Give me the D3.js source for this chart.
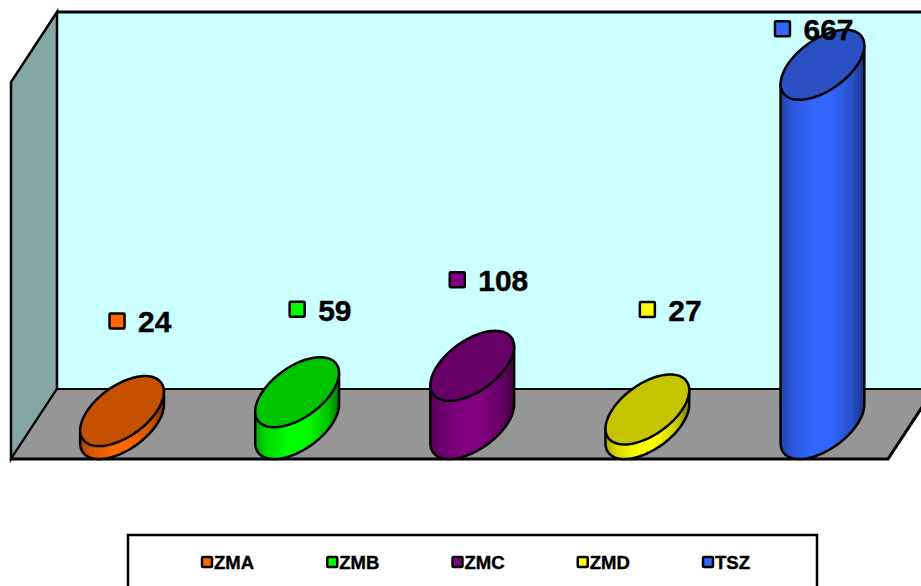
<!DOCTYPE html>
<html>
<head>
<meta charset="utf-8">
<script src="https://cdn.jsdelivr.net/npm/d3@7/dist/d3.min.js"></script>
<style>
html,body{margin:0;padding:0;background:#fff;overflow:hidden}
svg{display:block}
text{font-family:"Liberation Sans",Arial,sans-serif;font-weight:700;fill:#000;stroke:#000;stroke-width:0.4px}
</style>
</head>
<body>
<div id="chart"></div>
<script>
// Series
const categories = ["ZMA", "ZMB", "ZMC", "ZMD", "TSZ"];
const values = [24, 59, 108, 27, 667];
const sideColors = ["#ff6600", "#00ff00", "#800080", "#ffff00", "#3366ff"];
const topColors = ["#c45000", "#00c400", "#660066", "#c4c400", "#2a50c4"];
// Hand-placed data labels, relative to each column's top centre
const labelShiftX = [-5, 0, -15, 0, -40];
const labelShiftY = [90, 83, 86, 100, 36];

const width = 921, height = 586;
const plot = {left: 11, right: 888, top: 82, bottom: 459};
const depth = {x: 46, y: -70};
const yMax = 700;
const radiusX = 35;

const svg = d3.select("#chart").append("svg")
  .attr("width", width).attr("height", height);

const x = d3.scaleBand().domain(categories).range([plot.left + 0.5, plot.right - 1]);
const y = d3.scaleLinear().domain([0, yMax]).range([plot.bottom, plot.top]);

// Room: back wall, side wall, floor
const poly = d3.line();
const roomStroke = g => g.attr("stroke", "#000").attr("stroke-linejoin", "miter");
const back = {l: plot.left + depth.x, r: plot.right + depth.x,
              t: plot.top + depth.y, b: plot.bottom + depth.y};

svg.append("path")
  .attr("d", poly([[back.l, back.t], [back.r, back.t], [back.r, back.b], [back.l, back.b]]) + "Z")
  .attr("fill", "#ccffff");
svg.append("path")
  .attr("d", poly([[plot.left, plot.bottom], [plot.left, plot.top], [back.l, back.t], [back.l, back.b]]) + "Z")
  .attr("fill", "#86a6a6").call(roomStroke).attr("stroke-width", 2.5);
svg.append("path")
  .attr("d", poly([[plot.left, plot.bottom], [plot.right, plot.bottom], [back.r, back.b], [back.l, back.b]]) + "Z")
  .attr("fill", "#969696").call(roomStroke).attr("stroke-width", 2);
svg.append("path")
  .attr("d", poly([[back.l, back.t], [back.r, back.t]]))
  .call(roomStroke).attr("stroke-width", 3);
svg.append("path")
  .attr("d", poly([[plot.left, plot.bottom], [plot.right, plot.bottom], [back.r, back.b]]))
  .attr("fill", "none").call(roomStroke).attr("stroke-width", 3);

// Horizontal shading of the cylinder sides
const defs = svg.append("defs");
const shadeStops = [[0, 0.66], [0.14, 0.86], [0.4, 1], [0.6, 1], [0.86, 0.78], [1, 0.48]];
sideColors.forEach((c, i) => {
  const g = defs.append("linearGradient").attr("id", "side" + i);
  const base = d3.color(c);
  shadeStops.forEach(([o, k]) => {
    g.append("stop").attr("offset", o)
      .attr("stop-color", d3.rgb(base.r * k, base.g * k, base.b * k).formatHex());
  });
});

// A circle on the sheared floor plane, in screen coordinates
const rimPoint = (cx, cy, t) => [
  cx + radiusX * Math.cos(t) + (depth.x / 2) * Math.sin(t),
  cy + (depth.y / 2) * Math.sin(t)
];
const edgeAngle = Math.atan2(depth.x / 2, radiusX);
const rimLine = d3.line();

const columns = svg.append("g").selectAll("g")
  .data(categories.map((c, i) => ({c, i, v: values[i]})))
  .join("g");

const floorOffset = -depth.y / 2;
const centreX = d => x(d.c) + x.bandwidth() / 2 + depth.x / 2;
const baseY = () => y(0) - floorOffset;
const topY = d => y(d.v) - floorOffset;

// Side silhouette: down the right edge, round the front of the base, up the left edge
columns.append("path")
  .attr("d", d => {
    const cx = centreX(d);
    const arc = d3.range(0, 73).map(k => rimPoint(cx, baseY(), edgeAngle - Math.PI * k / 72));
    const pts = [rimPoint(cx, topY(d), edgeAngle), ...arc, rimPoint(cx, topY(d), edgeAngle - Math.PI)];
    return rimLine(pts) + "Z";
  })
  .attr("fill", d => `url(#side${d.i})`)
  .attr("stroke", "#000").attr("stroke-width", 2.5).attr("stroke-linejoin", "round");

// Top cap
columns.append("path")
  .attr("d", d => {
    const cx = centreX(d);
    return rimLine(d3.range(0, 120).map(k => rimPoint(cx, topY(d), 2 * Math.PI * k / 120))) + "Z";
  })
  .attr("fill", d => topColors[d.i])
  .attr("stroke", "#000").attr("stroke-width", 2.5);

// Data labels: colour key followed by the value
const labels = svg.append("g").selectAll("g")
  .data(categories.map((c, i) => ({c, i, v: values[i]})))
  .join("g")
  .attr("transform", d => `translate(${centreX(d) + labelShiftX[d.i]},${topY(d) - labelShiftY[d.i]})`);
labels.append("rect")
  .attr("x", -7.5).attr("y", -7.5).attr("width", 15).attr("height", 15).attr("rx", 1)
  .attr("fill", d => sideColors[d.i]).attr("stroke", "#000").attr("stroke-width", 2.5);
labels.append("text")
  .attr("x", 21).attr("dy", "0.38em")
  .attr("font-size", 30)
  .text(d => d.v);

// Legend
const legendLeft = 128, legendRight = 817, legendTop = 535;
svg.append("rect")
  .attr("x", legendLeft).attr("y", legendTop)
  .attr("width", legendRight - legendLeft).attr("height", 70)
  .attr("fill", "#fff").attr("stroke", "#000").attr("stroke-width", 2.5);

const legendX = d3.scalePoint().domain(categories).range([207, 708]);
const legend = svg.append("g").selectAll("g")
  .data(categories.map((c, i) => ({c, i})))
  .join("g")
  .attr("transform", d => `translate(${legendX(d.c)},562)`);
legend.append("rect")
  .attr("x", -5).attr("y", -5).attr("width", 10).attr("height", 10).attr("rx", 1)
  .attr("fill", d => sideColors[d.i]).attr("stroke", "#000").attr("stroke-width", 2.5);
legend.append("text")
  .attr("x", 7).attr("dy", "0.36em")
  .attr("font-size", 18.5)
  .text(d => d.c);
</script>
</body>
</html>
